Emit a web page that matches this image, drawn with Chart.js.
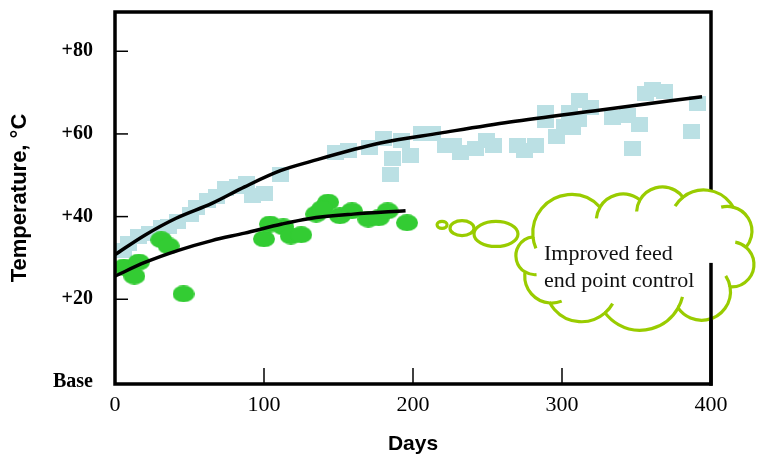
<!DOCTYPE html>
<html>
<head>
<meta charset="utf-8">
<script src="https://cdn.jsdelivr.net/npm/chart.js@4.4.1/dist/chart.umd.min.js"></script>
<style>
  html, body { margin: 0; padding: 0; background: #fff; }
  #wrap { width: 761px; height: 457px; }
</style>
</head>
<body>
<div id="wrap"><canvas id="chart"></canvas></div>
<script>
// light blue squares (longer run, up to 400 days)
const squareDays = [6, 9, 16, 23, 31, 36, 42, 51, 55, 62, 68, 74, 82, 88, 92, 100, 111,
  148, 157, 171, 180, 192, 186, 198, 185, 206, 213, 222, 227, 232, 242, 249, 254,
  270, 282, 275, 289, 289, 296, 302, 307, 305, 312, 319, 311, 334, 344, 352, 347,
  356, 361, 369, 391, 387];
const squareTemps = [31.9, 33.6, 35.3, 35.8, 37.3, 37.7, 38.7, 40.6, 42.3, 44.0, 44.8, 46.7, 47.4, 48.1, 45.0, 45.5, 50.3,
  55.6, 55.9, 56.6, 59.0, 58.3, 54.0, 54.7, 50.1, 60.0, 60.2, 57.1, 57.3, 55.6, 56.4, 58.3, 57.1,
  57.1, 57.1, 56.1, 65.3, 63.2, 59.3, 61.9, 61.5, 65.1, 68.2, 66.3, 63.4, 63.9, 64.4, 62.4, 56.4,
  69.7, 70.7, 70.2, 67.3, 60.5];

// green dots (first 200 days)
const dotDays = [6, 16, 13, 31, 36, 46, 100, 104, 113, 118, 125, 135, 143, 139, 151, 159, 170, 177, 183, 196];
const dotTemps = [27.8, 29.0, 25.6, 34.4, 32.9, 21.3, 34.6, 38.2, 37.5, 35.3, 35.6, 40.6, 43.5, 41.9, 40.2, 41.4, 39.4, 39.7, 41.4, 38.5];

// trend curves
const upperFitDays = [0, 20, 41, 65, 87, 111, 131, 178, 218, 265, 326, 394];
const upperFitTemps = [30.8, 35.5, 39.6, 43.2, 47.2, 51.1, 53.3, 57.8, 60.2, 62.9, 65.8, 69.0];
const lowerFitDays = [0, 20, 43, 65, 87, 112, 130, 160, 195];
const lowerFitTemps = [25.6, 28.9, 31.9, 34.2, 36.0, 38.2, 39.5, 40.6, 41.4];

const xTickValues = [0, 100, 200, 300, 400];
const yTickValues = [0, 20, 40, 60, 80];
const yTickLabels = ["Base", "+20", "+40", "+60", "+80"];

const calloutLines = ["Improved feed", "end point control"];

const toPoints = (xs, ys) => xs.map((x, i) => ({ x: x, y: ys[i] }));

function makeSquare(w, h, color) {
  const c = document.createElement("canvas");
  c.width = w; c.height = h;
  const g = c.getContext("2d");
  g.fillStyle = color;
  g.fillRect(0, 0, w, h);
  return c;
}

function makeEllipse(w, h, color) {
  const c = document.createElement("canvas");
  c.width = w; c.height = h;
  const g = c.getContext("2d");
  g.fillStyle = color;
  g.beginPath();
  g.ellipse(w / 2, h / 2, w / 2, h / 2, 0, 0, Math.PI * 2);
  g.fill();
  return c;
}

const squareStyle = makeSquare(17, 15, "#bbe0e4");
const dotStyle = makeEllipse(22, 17, "#33cc33");

// the thought cloud, in axis units: [day, temp, bump depth]
const cloudJoints = [
  [280.5, 35.1, 0.36], [325.5, 42.3, 0.23], [352.3, 44.0, 0.27], [381.2, 44.7, 0.23],
  [414.8, 42.3, 0.28], [423.5, 32.6, 0.36], [412.8, 23.0, 0.4], [377.9, 17.9, 0.27],
  [328.9, 16.7, 0.24], [291.9, 19.1, 0.22], [275.2, 26.6, 0.36]
];
const bubbles = [[219.5, 38.0, 5, 3.5], [232.9, 37.2, 12, 7.5], [255.7, 35.8, 22, 12.5]];

function bumpArc(p0, p1, ratio) {
  const dx = p1.x - p0.x, dy = p1.y - p0.y;
  const c = Math.hypot(dx, dy);
  const nx = dy / c, ny = -dx / c;
  const h = ratio * c;
  const r = (c * c / 4 + h * h) / (2 * h);
  const mx = (p0.x + p1.x) / 2, my = (p0.y + p1.y) / 2;
  const cx = mx + nx * (h - r), cy = my + ny * (h - r);
  const a0 = Math.atan2(p0.y - cy, p0.x - cx);
  const a1 = Math.atan2(p1.y - cy, p1.x - cx);
  const top = Math.atan2(ny, nx);
  const TAU = Math.PI * 2;
  const norm = (a) => ((a % TAU) + TAU) % TAU;
  const ccw = !(norm(top - a0) < norm(a1 - a0));
  return { cx, cy, r, a0, a1, ccw };
}

const noPadding = (s) => {
  s.paddingTop = 0;
  s.paddingBottom = 0;
  s.paddingLeft = 0;
  s.paddingRight = 0;
};

const framePlugin = {
  id: "frame",
  afterDatasetsDraw(chart) {
    const { ctx, chartArea: a, scales: { x, y } } = chart;
    ctx.save();
    ctx.strokeStyle = "#000";
    ctx.lineWidth = 1.5;
    yTickValues.slice(1).forEach((v) => {
      const py = y.getPixelForValue(v);
      ctx.beginPath();
      ctx.moveTo(a.left, py);
      ctx.lineTo(a.left + 13, py);
      ctx.stroke();
    });
    xTickValues.slice(1, -1).forEach((v) => {
      const px = x.getPixelForValue(v);
      ctx.beginPath();
      ctx.moveTo(px, a.bottom);
      ctx.lineTo(px, a.bottom - 16);
      ctx.stroke();
    });
    ctx.lineWidth = 3.5;
    ctx.strokeRect(a.left, a.top, a.right - a.left, a.bottom - a.top);
    ctx.restore();
  },
  afterDraw(chart) {
    const { ctx, chartArea: a, scales: { x, y } } = chart;
    const green = "#99cc00";
    ctx.save();
    ctx.lineWidth = 3.2;
    ctx.strokeStyle = green;
    ctx.fillStyle = "#fff";

    bubbles.forEach(([bx, by, rx, ry]) => {
      ctx.beginPath();
      ctx.ellipse(x.getPixelForValue(bx), y.getPixelForValue(by), rx, ry, 0, 0, Math.PI * 2);
      ctx.fill();
      ctx.stroke();
    });

    const pts = cloudJoints.map(([dx, dy]) => ({ x: x.getPixelForValue(dx), y: y.getPixelForValue(dy) }));
    const arcs = pts.map((p, i) => bumpArc(p, pts[(i + 1) % pts.length], cloudJoints[i][2]));
    ctx.beginPath();
    arcs.forEach((b) => ctx.arc(b.cx, b.cy, b.r, b.a0, b.a1, b.ccw));
    ctx.closePath();
    ctx.fill();
    ctx.stroke();

    // little inner hooks where the bumps meet
    arcs.forEach((b) => {
      const ext = 12 / b.r;
      ctx.beginPath();
      ctx.arc(b.cx, b.cy, b.r, b.ccw ? b.a0 + ext : b.a0 - ext, b.a0, b.ccw);
      ctx.stroke();
    });

    // right frame edge shows through the lower part of the cloud
    ctx.strokeStyle = "#000";
    ctx.lineWidth = 3.5;
    ctx.beginPath();
    ctx.moveTo(a.right, y.getPixelForValue(28.8));
    ctx.lineTo(a.right, a.bottom + 1.75);
    ctx.stroke();

    ctx.fillStyle = "#111";
    ctx.font = "22px 'Liberation Serif'";
    ctx.textAlign = "left";
    ctx.textBaseline = "alphabetic";
    ctx.fillText(calloutLines[0], x.getPixelForValue(287.9), y.getPixelForValue(29.5));
    ctx.fillText(calloutLines[1], x.getPixelForValue(287.9), y.getPixelForValue(23.0));
    ctx.restore();
  }
};

const config = {
  type: "scatter",
  data: {
    datasets: [
      {
        type: "line",
        data: toPoints(upperFitDays, upperFitTemps),
        borderColor: "#000",
        borderWidth: 3.5,
        pointRadius: 0,
        cubicInterpolationMode: "monotone",
        fill: false,
        order: 0,
      },
      {
        type: "line",
        data: toPoints(lowerFitDays, lowerFitTemps),
        borderColor: "#000",
        borderWidth: 3.5,
        pointRadius: 0,
        cubicInterpolationMode: "monotone",
        fill: false,
        order: 0,
      },
      {
        data: toPoints(dotDays, dotTemps),
        pointStyle: dotStyle,
        pointRadius: 10,
        order: 1,
      },
      {
        data: toPoints(squareDays, squareTemps),
        pointStyle: squareStyle,
        pointRadius: 10,
        order: 2,
      },
    ],
  },
  options: {
    responsive: true,
    maintainAspectRatio: false,
    animation: false,
    events: [],
    layout: { padding: { left: 0, right: 50, top: 12, bottom: 0 } },
    plugins: { legend: false, tooltip: { enabled: false } },
    scales: {
      x: {
        type: "linear",
        min: 0,
        max: 400,
        afterFit: (s) => { s.height = 73; noPadding(s); },
        afterBuildTicks: (s) => { s.ticks = xTickValues.map((v) => ({ value: v })); },
        grid: { display: false, drawTicks: false },
        border: { display: false },
        ticks: {
          padding: 8,
          color: "#000",
          font: { family: "'Liberation Serif'", size: 22 },
        },
        title: {
          display: true,
          text: "Days",
          color: "#000",
          font: { family: "'Liberation Sans'", size: 21, weight: "bold", lineHeight: 1 },
          padding: { top: 0, bottom: 2 },
        },
      },
      y: {
        type: "linear",
        min: -0.5,
        max: 89.5,
        afterFit: (s) => { s.width = 115; noPadding(s); },
        afterBuildTicks: (s) => { s.ticks = yTickValues.map((v) => ({ value: v })); },
        grid: { display: false, drawTicks: false },
        border: { display: false },
        ticks: {
          padding: 22,
          color: "#000",
          font: { family: "'Liberation Serif'", size: 20, weight: "bold" },
          callback: (v) => yTickLabels[yTickValues.indexOf(v)],
        },
        title: {
          display: true,
          text: "Temperature, °C",
          color: "#000",
          font: { family: "'Liberation Sans'", size: 22, weight: "bold", lineHeight: 1 },
          padding: { top: 9, bottom: 0 },
        },
      },
    },
  },
  plugins: [framePlugin],
};

new Chart(document.getElementById("chart"), config);
</script>
</body>
</html>
